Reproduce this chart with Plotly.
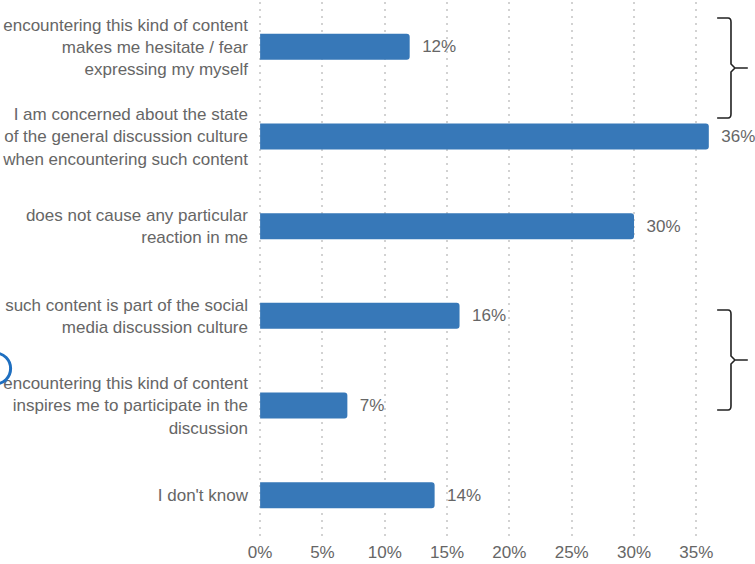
import plotly.graph_objects as go

# Survey responses and shares (percent)
categories = [
    "encountering this kind of content<br>makes me hesitate / fear<br>expressing my myself",
    "I am concerned about the state<br>of the general discussion culture<br>when encountering such content",
    "does not cause any particular<br>reaction in me",
    "such content is part of the social<br>media discussion culture",
    "encountering this kind of content<br>inspires me to participate in the<br>discussion",
    "I don't know",
]
shares = [12, 36, 30, 16, 7, 14]
tick_values = [0, 5, 10, 15, 20, 25, 30, 35]
tick_labels = [f"{v}%" for v in tick_values]

W, H = 755, 564
ML, MR, MT, MB = 252, 25, 2, 24
PW, PH = W - ML - MR, H - MT - MB

BAR = "#3778b8"
GREY = "#666666"
FONT = "Liberation Sans Narrow, Arial Narrow, Liberation Sans, Arial, sans-serif"

fig = go.Figure(
    go.Bar(
        x=shares,
        y=categories,
        orientation="h",
        marker=dict(color=BAR, line=dict(width=0), cornerradius=3),
        width=0.29,
        text=[f"\u00a0\u00a0{v}%" for v in shares],
        textposition="outside",
        textfont=dict(color=GREY, size=17, family=FONT),
        cliponaxis=False,
    )
)


def px(x):
    return (x - ML) / PW


def py(y):
    return 1 - (y - MT) / PH


def brace(x0, x1, tip, y0, y1):
    ym = (y0 + y1) / 2
    pts = [
        f"M{px(x0)},{py(y0)}",
        f"L{px(x1 - 3)},{py(y0)}",
        f"Q{px(x1)},{py(y0)} {px(x1)},{py(y0 + 4)}",
        f"L{px(x1)},{py(ym - 4)}",
        f"L{px(x1 + 4)},{py(ym)}",
        f"L{px(tip)},{py(ym)}",
        f"M{px(x1 + 4)},{py(ym)}",
        f"L{px(x1)},{py(ym + 4)}",
        f"L{px(x1)},{py(y1 - 4)}",
        f"Q{px(x1)},{py(y1)} {px(x1 - 3)},{py(y1)}",
        f"L{px(x0)},{py(y1)}",
    ]
    return dict(
        type="path", xref="paper", yref="paper", path=" ".join(pts),
        line=dict(color="#222222", width=1.6),
    )


shapes = [
    brace(717, 731, 748, 18, 118),
    brace(717, 731, 748, 310, 410),
    dict(
        type="circle", xref="paper", yref="paper",
        x0=px(-28), x1=px(3), y0=py(384), y1=py(353),
        line=dict(color="#1f6fc0", width=3),
    ),
]

fig.update_layout(
    width=W,
    height=H,
    margin=dict(l=ML, r=MR, t=MT, b=MB, pad=0),
    paper_bgcolor="white",
    plot_bgcolor="white",
    showlegend=False,
    bargap=0.71,
    font=dict(family=FONT, color=GREY, size=17),
    shapes=shapes,
    xaxis=dict(
        range=[-0.25, 37.7],
        tickvals=tick_values,
        ticktext=tick_labels,
        showgrid=True,
        gridcolor="#d2d2d2",
        griddash="2px,5px",
        gridwidth=2,
        zeroline=False,
        showline=False,
        tickfont=dict(size=17, color=GREY, family=FONT),
        ticks="",
    ),
    yaxis=dict(
        categoryorder="array",
        categoryarray=categories,
        autorange="reversed",
        showgrid=False,
        zeroline=False,
        showline=False,
        ticks="",
        ticklabelstandoff=8,
        tickfont=dict(size=17, color=GREY, family=FONT),
    ),
)

fig.write_html("out.html")
